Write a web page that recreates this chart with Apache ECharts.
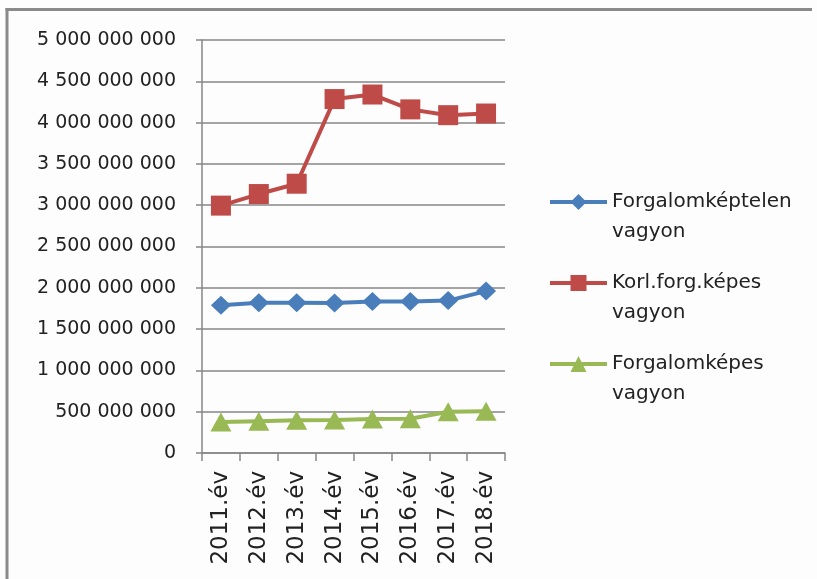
<!DOCTYPE html>
<html>
<head>
    <meta charset="utf-8">
    <title>ECharts</title>
    <style>
        html,body{
        width:100%;
        height:100%;
        overflow:hidden;
        padding:0;
        margin:0;
        background:#fff;
        }
        #main{
        width:817px;height:579px;overflow:hidden;
        }
    </style>
    <script src="https://cdn.jsdelivr.net/npm/echarts@6/dist/echarts.min.js"></script>
</head>
<body>
<div id="main"></div>

<script type="text/javascript">

    // évek
    var years = ['2011.év', '2012.év', '2013.év', '2014.év', '2015.év', '2016.év', '2017.év', '2018.év'];

    // vagyon értékek (Ft)
    var forgalomkeptelen = [1790000000, 1820000000, 1820000000, 1815000000, 1835000000, 1835000000, 1845000000, 1960000000];
    var korlForgKepes = [2995000000, 3135000000, 3260000000, 4285000000, 4340000000, 4160000000, 4090000000, 4110000000];
    var forgalomkepes = [375000000, 385000000, 395000000, 400000000, 412000000, 415000000, 500000000, 505000000];

    var seriesNames = ['Forgalomképtelen vagyon', 'Korl.forg.képes vagyon', 'Forgalomképes vagyon'];

    var yTicks = { min: 0, max: 5000000000, interval: 500000000 };

    var myChart = echarts.init(document.getElementById('main'));

    // számok szóközzel tagolva
    function fmt(v) {
        return String(v).replace(/\B(?=(\d{3})+(?!\d))/g, ' ');
    }

    var option = {
        animation: false,
        backgroundColor: '#fdfdfd',
        textStyle: { fontFamily: 'DejaVu Sans' },
        // keret: csak a felső és bal oldal látszik
        graphic: [{
            type: 'line',
            shape: { x1: 7, y1: 8, x2: 7, y2: 579 },
            style: { stroke: '#8a8a8a', lineWidth: 3 },
            silent: true
        }, {
            type: 'line',
            shape: { x1: 5.5, y1: 9.5, x2: 812, y2: 9.5 },
            style: { stroke: '#8a8a8a', lineWidth: 3 },
            silent: true
        }],
        grid: { left: 202, right: 312, top: 40, bottom: 126 },
        legend: {
            orient: 'vertical',
            left: 543,
            top: 152,
            itemWidth: 57,
            itemHeight: 20,
            itemGap: -9,
            data: seriesNames,
            lineStyle: { width: 4 },
            // üres első sor, hogy a jel az első szövegsorhoz igazodjon
            formatter: function (name) { return '\u00a0\n' + name.replace(' ', '\n'); },
            textStyle: {
                fontFamily: 'DejaVu Sans',
                fontSize: 20,
                color: '#222',
                lineHeight: 30
            }
        },
        xAxis: {
            type: 'category',
            data: years,
            boundaryGap: true,
            axisLine: { lineStyle: { color: '#868686', width: 1.5 } },
            axisTick: { show: true, length: 8, interval: 0, lineStyle: { color: '#868686', width: 1.5 } },
            axisLabel: { rotate: 90, interval: 0, margin: 18, fontSize: 23, color: '#222', fontFamily: 'DejaVu Sans' }
        },
        yAxis: {
            type: 'value',
            min: yTicks.min,
            max: yTicks.max,
            interval: yTicks.interval,
            axisLine: { show: true, lineStyle: { color: '#868686', width: 1.5 } },
            axisTick: { show: true, length: 6, lineStyle: { color: '#868686', width: 1.5 } },
            splitLine: { lineStyle: { color: '#868686', width: 1.5 } },
            axisLabel: { margin: 26, fontSize: 19, color: '#222', fontFamily: 'DejaVu Sans', formatter: fmt }
        },
        series: [{
            name: seriesNames[0],
            type: 'line',
            data: forgalomkeptelen,
            symbol: 'diamond',
            symbolSize: [20, 19],
            lineStyle: { color: '#4a7ebb', width: 4 },
            itemStyle: { color: '#4a7ebb' }
        }, {
            name: seriesNames[1],
            type: 'line',
            data: korlForgKepes,
            symbol: 'rect',
            symbolSize: [20, 20],
            lineStyle: { color: '#be4b48', width: 4 },
            itemStyle: { color: '#be4b48' }
        }, {
            name: seriesNames[2],
            type: 'line',
            data: forgalomkepes,
            symbol: 'triangle',
            symbolSize: [21, 19],
            lineStyle: { color: '#98b954', width: 4 },
            itemStyle: { color: '#98b954' }
        }]
    };

    myChart.setOption(option);

</script>
</body>
</html>
